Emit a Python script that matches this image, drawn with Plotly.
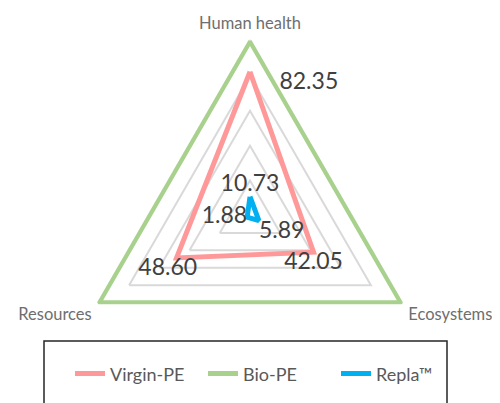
import plotly.graph_objects as go

categories = ["Human health", "Ecosystems", "Resources"]
virgin_pe = [82.35, 42.05, 48.60]
bio_pe = [100, 100, 100]
repla = [10.73, 5.89, 1.88]

virgin_pos = ["bottom right", "bottom center", "bottom center"]
virgin_pad = [("     ", ""), ("", ""), ("", "   ")]
repla_pos = ["top center", "bottom right", "middle left"]

def closed(vals):
    return vals + vals[:1]

def labels(vals, pads=None):
    pads = pads or [("", "")] * len(vals)
    return [p[0] + f"{v:.2f}" + p[1] for v, p in zip(vals, pads)] + [""]

label_font = dict(family="Lato, sans-serif", size=23, color="#404040")

fig = go.Figure()
fig.add_trace(go.Scatterpolar(
    r=closed(bio_pe), theta=closed(categories), name="Bio-PE", legendrank=2,
    mode="lines", line=dict(color="#A9D18E", width=5), cliponaxis=False,
))
fig.add_trace(go.Scatterpolar(
    r=closed(virgin_pe), theta=closed(categories), name="Virgin-PE", legendrank=1,
    mode="lines+text", line=dict(color="#FF9999", width=5), cliponaxis=False,
    text=labels(virgin_pe, virgin_pad),
    textposition=virgin_pos + ["top center"], textfont=label_font,
))
fig.add_trace(go.Scatterpolar(
    r=closed(repla), theta=closed(categories), name="Repla™", legendrank=3,
    mode="lines+text", line=dict(color="#00B0F0", width=5), cliponaxis=False,
    text=labels(repla), textposition=repla_pos + ["top center"], textfont=label_font,
))

fig.update_layout(
    width=500, height=403,
    margin=dict(l=0, r=0, t=0, b=0),
    paper_bgcolor="white", plot_bgcolor="white",
    font=dict(family="Lato, sans-serif", color="#595959"),
    polar=dict(
        domain=dict(x=[0.128, 0.840], y=[0.0434, 0.927]),
        bgcolor="white",
        gridshape="linear",
        radialaxis=dict(range=[0, 102], tickvals=[20, 40, 60, 80, 100], showticklabels=False,
                        ticks="", showline=False, gridcolor="#D9D9D9", gridwidth=1.5),
        angularaxis=dict(rotation=90, direction="clockwise", showgrid=False,
                         showline=False, ticks="outside", ticklen=1,
                         tickcolor="rgba(0,0,0,0)",
                         tickfont=dict(family="Lato, sans-serif", size=16.5, color="#6E6E6E")),
    ),
    legend=dict(orientation="h", x=0.124, xanchor="left", y=0.092, yanchor="middle",
                entrywidth=88, entrywidthmode="pixels",
                font=dict(family="Lato, sans-serif", size=18, color="#595959"),
                bgcolor="rgba(0,0,0,0)"),
    shapes=[dict(type="rect", xref="paper", yref="paper", x0=0.072, x1=0.878,
                 y0=-0.05, y1=0.174, line=dict(color="#262626", width=1.5))],
    showlegend=True,
)

fig.write_html("out.html")
